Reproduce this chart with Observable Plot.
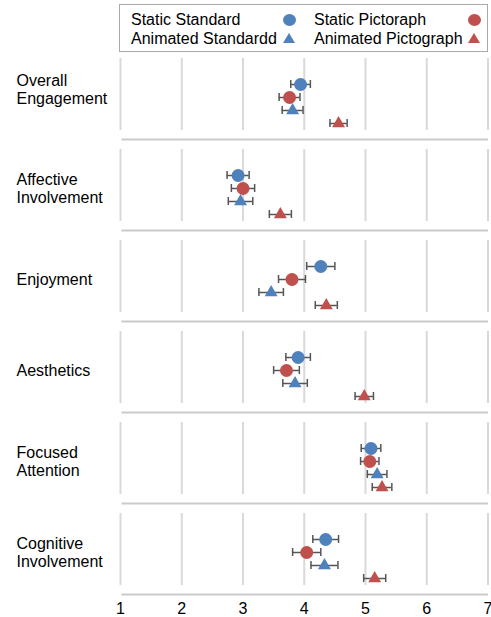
<!DOCTYPE html>
<html>
<head>
<meta charset="utf-8">
<script src="https://cdn.jsdelivr.net/npm/d3@7"></script>
<script src="https://cdn.jsdelivr.net/npm/@observablehq/plot@0.6"></script>
<style>
  body { margin: 0; background: #fff; font-family: "Liberation Sans", Arial, sans-serif; }
  #legend { position: relative; width: 491px; height: 51px; }
  #legend .box { position: absolute; left: 119px; top: 4px; width: 369px; height: 48px; box-sizing: border-box; border: 1.5px solid #a9a9a9; background: #fff; }
  #legend .txt { position: absolute; font-size: 16px; line-height: 16px; color: #000; white-space: nowrap; }
  #legend .circ { position: absolute; width: 13px; height: 12px; border-radius: 50%; }
  #legend .tri { position: absolute; width: 12px; height: 10px; clip-path: polygon(50% 0, 100% 100%, 0 100%); }
  #chart svg { display: block; }
</style>
</head>
<body>
<div id="legend"></div>
<div id="chart"></div>
<script>
// ---- data ----
const metrics = ["Overall Engagement", "Affective Involvement", "Enjoyment", "Aesthetics", "Focused Attention", "Cognitive Involvement"];
const metricLabels = ["Overall\nEngagement", "Affective\nInvolvement", "Enjoyment", "Aesthetics", "Focused\nAttention", "Cognitive\nInvolvement"];
const series = ["Static Standard", "Static Pictoraph", "Animated Standardd", "Animated Pictograph"];
const seriesColors = ["#4F81BD", "#C0504D", "#4F81BD", "#C0504D"];
const seriesSymbols = ["circle", "circle", "triangle", "triangle"];

const staticStandard     = [3.94, 2.92, 4.27, 3.90, 5.09, 4.35];
const staticPictograph   = [3.76, 3.00, 3.80, 3.71, 5.07, 4.04];
const animatedStandard   = [3.81, 2.96, 3.46, 3.85, 5.19, 4.33];
const animatedPictograph = [4.56, 3.61, 4.36, 4.98, 5.27, 5.15];

const errStaticStandard     = [0.16, 0.18, 0.23, 0.20, 0.16, 0.21];
const errStaticPictograph   = [0.17, 0.19, 0.22, 0.21, 0.15, 0.23];
const errAnimatedStandard   = [0.17, 0.20, 0.20, 0.20, 0.16, 0.22];
const errAnimatedPictograph = [0.14, 0.18, 0.18, 0.15, 0.16, 0.18];

const xTicks = [1, 2, 3, 4, 5, 6, 7];

// ---- table ----
const means = [staticStandard, staticPictograph, animatedStandard, animatedPictograph];
const errs = [errStaticStandard, errStaticPictograph, errAnimatedStandard, errAnimatedPictograph];
const rows = [];
metrics.forEach((m, i) => {
  series.forEach((s, j) => {
    rows.push({metric: m, series: s, symbol: seriesSymbols[j], mean: means[j][i], lo: means[j][i] - errs[j][i], hi: means[j][i] + errs[j][i]});
  });
});
const labelRows = metrics.map((m, i) => ({metric: m, label: metricLabels[i], first: i === 0}));

// ---- legend ----
const legend = document.getElementById("legend");
const box = document.createElement("div"); box.className = "box"; legend.appendChild(box);
const legendPos = [
  {tx: 131, ty: 12, sx: 282.5, sy: 14},
  {tx: 314, ty: 12, sx: 467.5, sy: 14},
  {tx: 131, ty: 30.5, sx: 283, sy: 33},
  {tx: 314, ty: 30.5, sx: 468, sy: 33}
];
series.forEach((s, j) => {
  const p = legendPos[j];
  const t = document.createElement("div"); t.className = "txt"; t.textContent = s;
  t.style.left = p.tx + "px"; t.style.top = p.ty + "px"; legend.appendChild(t);
  const sym = document.createElement("div"); sym.className = seriesSymbols[j] === "circle" ? "circ" : "tri";
  sym.style.left = p.sx + "px"; sym.style.top = p.sy + "px"; sym.style.background = seriesColors[j];
  legend.appendChild(sym);
});

// ---- chart ----
const errStroke = "#555";
const chart = Plot.plot({
  width: 491,
  height: 566,
  marginTop: 6,
  marginBottom: 32,
  marginLeft: 120,
  marginRight: 3.5,
  style: {fontFamily: "'Liberation Sans', Arial, sans-serif", background: "#fff", color: "#000"},
  x: {domain: [1, 7]},
  y: {type: "band", domain: series, paddingInner: 5 / 13, paddingOuter: 0, insetTop: 22, insetBottom: 3, axis: null},
  fy: {domain: metrics, paddingInner: 19.2 / 91.2, paddingOuter: 0, axis: null, label: null},
  color: {domain: series, range: seriesColors},
  symbol: {domain: series, range: seriesSymbols},
  marks: [
    Plot.ruleX(xTicks, {stroke: "#d9d9d9", strokeWidth: 2}),
    Plot.frame({anchor: "bottom", dy: 9, stroke: "#cbcbcb", strokeWidth: 2, insetLeft: 2, insetRight: 1}),
    Plot.axisX({ticks: xTicks, tickSize: 0, tickPadding: 17, fontSize: 16, tickFormat: d => String(d), label: null, anchor: "bottom"}),
    Plot.ruleY(rows, {y: "series", x1: "lo", x2: "hi", fy: "metric", stroke: errStroke, strokeWidth: 1.5}),
    Plot.tickX(rows, {x: "lo", y: "series", fy: "metric", stroke: errStroke, strokeWidth: 1.5}),
    Plot.tickX(rows, {x: "hi", y: "series", fy: "metric", stroke: errStroke, strokeWidth: 1.5}),
    Plot.dot(rows.filter(d => d.symbol === "circle"), {x: "mean", y: "series", fy: "metric", fill: "series", symbol: "series", r: 6.5}),
    Plot.dot(rows.filter(d => d.symbol === "triangle"), {x: "mean", y: "series", fy: "metric", fill: "series", symbol: "series", r: 4.8}),
    Plot.text(labelRows.filter(d => d.first), {fy: "metric", text: "label", frameAnchor: "left", textAnchor: "start", dx: -104, dy: -5, fontSize: 16, lineHeight: 1.1, fill: "#000"}),
    Plot.text(labelRows.filter(d => !d.first), {fy: "metric", text: "label", frameAnchor: "left", textAnchor: "start", dx: -104, dy: 3, fontSize: 16, lineHeight: 1.1, fill: "#000"})
  ]
});
document.getElementById("chart").appendChild(chart);
</script>
</body>
</html>
